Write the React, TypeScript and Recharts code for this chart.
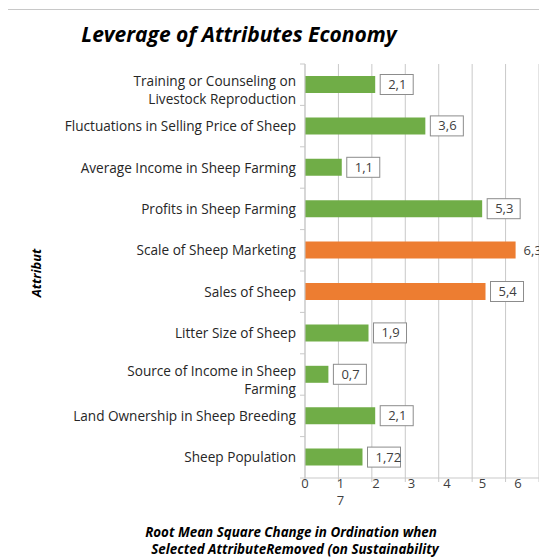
import { BarChart, Bar, XAxis, YAxis, CartesianGrid, Cell, LabelList } from 'recharts'

const categories = [
  'Training or Counseling on Livestock Reproduction',
  'Fluctuations in Selling Price of Sheep',
  'Average Income in Sheep Farming',
  'Profits in Sheep Farming',
  'Scale of Sheep Marketing',
  'Sales of Sheep',
  'Litter Size of Sheep',
  'Source of Income in Sheep Farming',
  'Land Ownership in Sheep Breeding',
  'Sheep Population',
]
const leverage = [2.1, 3.6, 1.1, 5.3, 6.3, 5.4, 1.9, 0.7, 2.1, 1.72]
const highlighted = ['Scale of Sheep Marketing', 'Sales of Sheep']
const xTicks = [0, 1, 2, 3, 4, 5, 6, 7]
// Excel wrapped these two labels onto a second line
const wrapped: Record<string, string> = {
  'Training or Counseling on Livestock Reproduction': 'Training or Counseling on',
  'Source of Income in Sheep Farming': 'Source of Income in Sheep',
}

const W = 539
const H = 550
const PLOT_LEFT = 297
const PLOT_RIGHT = 531
const PLOT_TOP = 56
const PLOT_BOTTOM = 470
const UNIT = (PLOT_RIGHT - PLOT_LEFT) / 7
const BAND = (PLOT_BOTTOM - PLOT_TOP) / categories.length
const FONT = '"Open Sans", sans-serif'
const GREEN = '#70AD47'
const ORANGE = '#ED7D31'
const GRID = '#c9c9c9'

const data = categories.map((name, i) => ({ name, value: leverage[i] }))

function CategoryTick(props: any) {
  const { x, y, payload, index } = props
  const name: string = payload.value
  const axisX = x + 9
  const first = wrapped[name]
  return (
    <g>
      <line x1={axisX - 5} x2={axisX} y1={y - BAND / 2} y2={y - BAND / 2} stroke={GRID} />
      {index === categories.length - 1 && (
        <line x1={axisX - 5} x2={axisX} y1={y + BAND / 2} y2={y + BAND / 2} stroke={GRID} />
      )}
      {first ? (
        <text textAnchor="end" fontFamily={FONT} fontSize={13.6} fill="#262626">
          <tspan x={x} y={y + 1}>{first}</tspan>
          <tspan x={x} y={y + 19}>{name.slice(first.length + 1)}</tspan>
        </text>
      ) : (
        <text x={x} y={y + 5} textAnchor="end" fontFamily={FONT} fontSize={13.6} fill="#262626">
          {name}
        </text>
      )}
    </g>
  )
}

function ValueTick(props: any) {
  const { x, y, payload } = props
  const v: number = payload.value
  // the last label wrapped under "1" in the original
  const tx = v === 7 ? x - 6 * UNIT + 2 : x + v * 2.07
  const ty = v === 7 ? y + 21 : y + 4
  return (
    <text x={tx} y={ty} textAnchor="middle" fontFamily={FONT} fontSize={13} fill="#404040">
      {v}
    </text>
  )
}

function ValueLabel(props: any) {
  const { x, y, width, height, value } = props
  const text = String(value).replace('.', ',')
  const bx = x + width + 5
  const cy = y + height / 2
  const fits = bx + 33 <= W
  return (
    <g>
      {fits && <rect x={bx} y={cy - 10} width={33} height={20} fill="#fff" stroke="#8c8c8c" />}
      <text x={fits ? bx + 8 : bx + 3} y={cy + 4.5} fontFamily={FONT} fontSize={13} fill="#404040">
        {text}
      </text>
    </g>
  )
}

export default function App() {
  return (
    <div style={{ position: 'relative', width: W, height: H, fontFamily: FONT }}>
      <div style={{ position: 'absolute', left: -1, top: 1, width: W + 1, height: 1, background: '#c8c8c8' }} />
      <div style={{ position: 'absolute', left: -1, top: 1, width: 1, height: H, background: '#c8c8c8' }} />
      <div
        style={{
          position: 'absolute', left: 0, top: 12, width: 462, textAlign: 'center',
          fontSize: 21, fontWeight: 700, fontStyle: 'italic', color: '#000', whiteSpace: 'nowrap',
        }}
      >
        Leverage of Attributes Economy
      </div>
      <div
        style={{
          position: 'absolute', left: 28, top: 265, transform: 'translate(-50%, -50%) rotate(-90deg)',
          fontSize: 12.8, fontWeight: 700, fontStyle: 'italic', color: '#000',
        }}
      >
        Attribut
      </div>
      <div
        style={{
          position: 'absolute', left: 0, top: 516, width: 566, textAlign: 'center',
          fontSize: 13.4, fontWeight: 700, fontStyle: 'italic', color: '#000', lineHeight: '17px', whiteSpace: 'nowrap',
        }}
      >
        <div>Root Mean Square Change in Ordination when</div>
        <div style={{ paddingLeft: 8 }}>Selected AttributeRemoved (on Sustainability</div>
      </div>
      <div style={{ position: 'absolute', left: 0, top: 0 }}>
        <BarChart
          width={W}
          height={H}
          data={data}
          layout="vertical"
          margin={{ top: PLOT_TOP, right: W - PLOT_RIGHT, bottom: 0, left: 0 }}
        >
          <CartesianGrid horizontal={false} stroke={GRID} />
          <XAxis
            type="number"
            domain={[0, 7]}
            ticks={xTicks}
            interval={0}
            height={H - PLOT_BOTTOM}
            axisLine={{ stroke: GRID }}
            tickLine={{ stroke: GRID }}
            tickSize={4}
            tickMargin={2}
            tick={<ValueTick />}
          />
          <YAxis
            type="category"
            dataKey="name"
            width={PLOT_LEFT}
            axisLine={{ stroke: GRID }}
            tickLine={false}
            tickSize={0}
            tickMargin={9}
            interval={0}
            tick={<CategoryTick />}
          />
          <Bar dataKey="value" barSize={17} isAnimationActive={false}>
            {data.map(d => (
              <Cell key={d.name} fill={highlighted.includes(d.name) ? ORANGE : GREEN} />
            ))}
            <LabelList dataKey="value" content={<ValueLabel />} />
          </Bar>
        </BarChart>
      </div>
    </div>
  )
}
